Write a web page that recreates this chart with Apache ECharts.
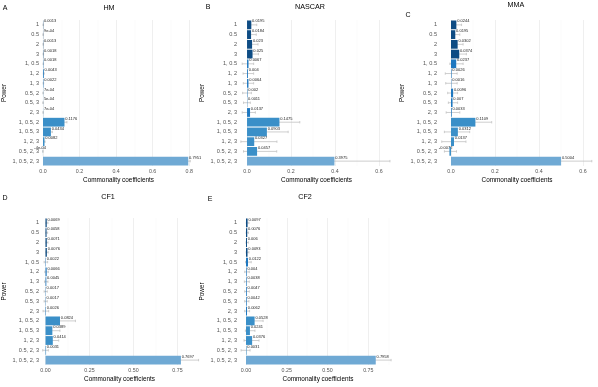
<!DOCTYPE html>
<html>
<head>
<meta charset="utf-8">
<script src="https://cdn.jsdelivr.net/npm/echarts@6/dist/echarts.min.js"></script>
<style>
html,body{margin:0;padding:0;background:#fff;}
#main{width:598px;height:387px;}
</style>
</head>
<body>
<div id="main"></div>
<script>
//数据
let powers = ['1', '0.5', '2', '3', '1, 0.5', '1, 2', '1, 3', '0.5, 2', '0.5, 3', '2, 3',
    '1, 0.5, 2', '1, 0.5, 3', '1, 2, 3', '0.5, 2, 3', '1, 0.5, 2, 3'];
let termCount = [1, 1, 1, 1, 2, 2, 2, 2, 2, 2, 3, 3, 3, 3, 4];

let hmValues = [0.0013, 0.0009, 0.0013, 0.0018, 0.0018, 0.0043, 0.0022, 0.0007, 0.0005, 0.0007, 0.1176, 0.0434, 0.0082, -0.0004, 0.7951];
let hmLower  = [0.0005, 0.0002, 0.0005, 0.0008, 0.0008, 0.002, 0.001, 0.0001, -0.0002, 0.0001, 0.103, 0.036, 0.0052, -0.0012, 0.784];
let hmUpper  = [0.0022, 0.0018, 0.0022, 0.003, 0.003, 0.0068, 0.0036, 0.0014, 0.0012, 0.0014, 0.131, 0.051, 0.0115, 0.0003, 0.806];

let nascarValues = [0.0195, 0.0184, 0.023, 0.025, 0.0067, 0.004, 0.0064, 0.002, 0.0011, 0.0137, 0.1475, 0.0903, 0.0327, 0.0457, 0.3975];
let nascarLower  = [0.004, 0.003, 0.006, 0.006, -0.022, -0.018, -0.017, -0.02, -0.016, -0.022, 0.075, 0.021, -0.028, -0.016, 0.085];
let nascarUpper  = [0.044, 0.042, 0.05, 0.052, 0.03, 0.03, 0.03, 0.02, 0.015, 0.038, 0.24, 0.187, 0.136, 0.135, 0.65];

let mmaValues = [0.0244, 0.0195, 0.0302, 0.0374, 0.0237, 0.0026, 0.0016, 0.0096, 0.007, 0.0033, 0.1109, 0.0312, 0.0137, -0.0072, 0.5004];
let mmaLower  = [0.008, 0.004, 0.012, 0.01, -0.005, -0.026, -0.024, -0.015, -0.012, -0.022, 0.045, -0.03, -0.042, -0.03, 0.22];
let mmaUpper  = [0.048, 0.04, 0.055, 0.07, 0.055, 0.028, 0.028, 0.03, 0.03, 0.04, 0.185, 0.085, 0.068, 0.025, 0.64];

let cf1Values = [0.0069, 0.0058, 0.0071, 0.0076, 0.0022, 0.0066, 0.0045, 0.0017, 0.0017, 0.0026, 0.0824, 0.0389, 0.0414, 0.0031, 0.7697];
let cf1Lower  = [0.002, 0.001, 0.002, 0.002, -0.008, -0.004, -0.006, -0.008, -0.008, -0.014, 0.03, 0.015, 0.018, -0.016, 0.655];
let cf1Upper  = [0.014, 0.012, 0.014, 0.015, 0.012, 0.016, 0.014, 0.01, 0.01, 0.018, 0.17, 0.082, 0.075, 0.016, 0.87];

let cf2Values = [0.0097, 0.0076, 0.006, 0.0093, 0.0122, 0.004, 0.0038, 0.0047, 0.0042, 0.0062, 0.0528, 0.0241, 0.0376, 0.0031, 0.7958];
let cf2Lower  = [0.002, 0.001, 0.0, 0.001, -0.003, -0.008, -0.01, -0.008, -0.008, -0.008, 0.015, -0.004, -0.012, -0.03, 0.68];
let cf2Upper  = [0.018, 0.015, 0.014, 0.018, 0.032, 0.02, 0.02, 0.02, 0.018, 0.022, 0.105, 0.055, 0.08, 0.025, 0.89];

let ticksTenths = [0, 0.2, 0.4, 0.6, 0.8];
let minorTenths = [0.1, 0.3, 0.5, 0.7];
let ticksQuarters = [0, 0.25, 0.5, 0.75];
let minorQuarters = [0.125, 0.375, 0.625, 0.875];

let panels = [
    {title: 'HM', letter: 'A', values: hmValues, lower: hmLower, upper: hmUpper, ticks: ticksTenths, minor: minorTenths, dec: 1},
    {title: 'NASCAR', letter: 'B', values: nascarValues, lower: nascarLower, upper: nascarUpper, ticks: ticksTenths, minor: minorTenths, dec: 1},
    {title: 'MMA', letter: 'C', values: mmaValues, lower: mmaLower, upper: mmaUpper, ticks: ticksTenths, minor: minorTenths, dec: 1},
    {title: 'CF1', letter: 'D', values: cf1Values, lower: cf1Lower, upper: cf1Upper, ticks: ticksQuarters, minor: minorQuarters, dec: 2},
    {title: 'CF2', letter: 'E', values: cf2Values, lower: cf2Lower, upper: cf2Upper, ticks: ticksQuarters, minor: minorQuarters, dec: 2}
];

//版面位置
let layout = [
    {left: 40, width: 155, top: 20, height: 146, min: -0.0054, max: 0.832, titleX: 109, titleY: 8, letterX: 5, letterY: 8},
    {left: 240, width: 153, top: 20, height: 146, min: -0.032, max: 0.664, titleX: 310, titleY: 7, letterX: 208, letterY: 7},
    {left: 440, width: 154, top: 20, height: 146, min: -0.05, max: 0.65, titleX: 516, titleY: 5, letterX: 408, letterY: 15},
    {left: 42, width: 155, top: 218, height: 147, min: -0.02, max: 0.861, titleX: 108, titleY: 197, letterX: 5, letterY: 198},
    {left: 240, width: 156, top: 218, height: 147, min: -0.0368, max: 0.92, titleX: 305, titleY: 197, letterX: 210, letterY: 199}
];

let fillColors = ['#0e4c84', '#1f78c0', '#3a8fc8', '#6fa9d4'];
let fontName = 'Liberation Sans, Arial, sans-serif';

function fmt(v){
    if(v !== 0 && Math.abs(v) < 0.001){
        return v.toExponential(0).replace(/e([+-])(\d)$/, 'e$10$2');
    }
    return String(v);
}

let chart = echarts.init(document.getElementById('main'));
let grid = [], xAxis = [], yAxis = [], series = [], graphic = [];

panels.forEach((p, k) => {
    let L = layout[k];
    grid.push({left: L.left, width: L.width, top: L.top, height: L.height});
    let major = p.ticks.filter(v => v >= L.min && v <= L.max);
    let minor = p.minor.filter(v => v >= L.min && v <= L.max);
    xAxis.push({
        gridIndex: k,
        type: 'value',
        min: L.min,
        max: L.max,
        name: 'Commonality coefficients',
        nameLocation: 'middle',
        nameGap: 11,
        nameTextStyle: {fontFamily: fontName, fontSize: 6.4, color: '#000'},
        axisLine: {show: false},
        axisTick: {show: false, customValues: major},
        axisLabel: {
            customValues: major,
            fontFamily: fontName,
            fontSize: 5.3,
            color: '#555',
            margin: 3,
            formatter: v => Number(v).toFixed(p.dec)
        },
        splitLine: {show: true, lineStyle: {color: '#e4e4e4', width: 0.6}}
    });
    xAxis.push({
        gridIndex: k,
        type: 'value',
        position: 'bottom',
        min: L.min,
        max: L.max,
        axisLine: {show: false},
        axisTick: {show: false, customValues: minor},
        axisLabel: {show: false, customValues: minor},
        splitLine: {show: true, lineStyle: {color: '#f2f2f2', width: 0.4}}
    });
    yAxis.push({
        gridIndex: k,
        type: 'category',
        data: powers,
        inverse: true,
        name: 'Power',
        nameLocation: 'middle',
        nameGap: 35,
        nameTextStyle: {fontFamily: fontName, fontSize: 6.4, color: '#000'},
        axisLine: {show: false},
        axisTick: {show: false},
        axisLabel: {interval: 0, fontFamily: fontName, fontSize: 5.6, color: '#555', margin: 3},
        splitLine: {show: false}
    });
    series.push({
        type: 'bar',
        xAxisIndex: 2 * k,
        yAxisIndex: k,
        barCategoryGap: '10%',
        silent: true,
        data: p.values.map((v, i) => ({value: v, itemStyle: {color: fillColors[termCount[i] - 1]}}))
    });
    series.push({
        type: 'custom',
        xAxisIndex: 2 * k,
        yAxisIndex: k,
        silent: true,
        encode: {x: [1, 2, 3], y: 0},
        data: p.values.map((v, i) => [i, v, p.lower[i], p.upper[i]]),
        renderItem: (params, api) => {
            let i = api.value(0);
            let v = api.value(1);
            let c = api.coord([v, i]);
            let lo = api.coord([api.value(2), i]);
            let hi = api.coord([api.value(3), i]);
            let y = c[1];
            let ls = {stroke: '#c2c2c2', lineWidth: 0.8};
            return {
                type: 'group',
                children: [
                    {type: 'line', shape: {x1: lo[0], y1: y, x2: hi[0], y2: y}, style: ls},
                    {type: 'line', shape: {x1: lo[0], y1: y - 1.2, x2: lo[0], y2: y + 1.2}, style: ls},
                    {type: 'line', shape: {x1: hi[0], y1: y - 1.2, x2: hi[0], y2: y + 1.2}, style: ls},
                    {
                        type: 'text',
                        x: v >= 0 ? c[0] + 0.8 : c[0] + 3,
                        y: y - 3.5,
                        style: {
                            text: fmt(v),
                            fontFamily: fontName,
                            fontSize: 4,
                            fill: '#222',
                            align: v >= 0 ? 'left' : 'right',
                            verticalAlign: 'middle'
                        }
                    }
                ]
            };
        }
    });
    graphic.push({
        type: 'text', x: L.titleX, y: L.titleY,
        style: {text: p.title, fontFamily: fontName, fontSize: 7.2, fill: '#000', align: 'center', verticalAlign: 'middle'}
    });
    graphic.push({
        type: 'text', x: L.letterX, y: L.letterY,
        style: {text: p.letter, fontFamily: fontName, fontSize: 7, fill: '#000', align: 'center', verticalAlign: 'middle'}
    });
});

let opts = {
    backgroundColor: '#fff',
    animation: false,
    grid: grid,
    xAxis: xAxis,
    yAxis: yAxis,
    series: series,
    graphic: graphic
};
chart.setOption(opts);
</script>
</body>
</html>
